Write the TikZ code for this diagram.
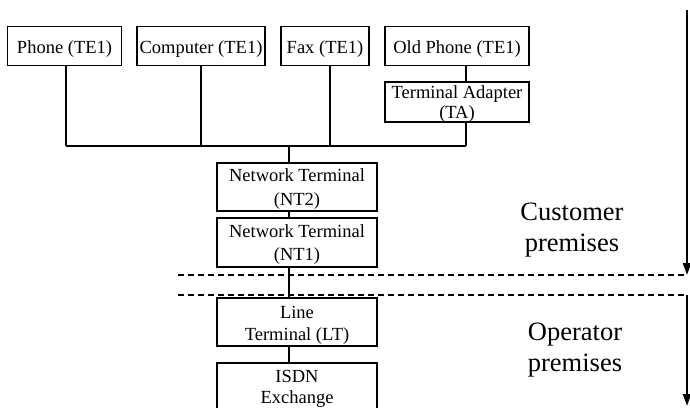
\documentclass[tikz,border=0pt]{standalone}
\usepackage{fontspec}
\setmainfont{Liberation Serif}
\usetikzlibrary{arrows.meta}
\newcommand{\boxtext}[3]{{\fontsize{18.5}{#2}\selectfont\raisebox{-#1}[\height][\depth]{\begin{tabular}{@{}c@{}}#3\end{tabular}}}}
\tikzset{
  box/.style={draw, line width=1.2pt, rectangle, inner sep=0pt,
    font=\fontsize{18.5}{24}\selectfont},
  onebox/.style={box, execute at begin node={\rule{0pt}{18.5pt}}},
  conn/.style={line width=2.6pt},
  sep/.style={line width=1.1pt, dash pattern=on 6pt off 4pt},
  side/.style={line width=2.2pt, -{Triangle[length=12pt,width=8pt]}},
  zone/.style={align=center, font=\fontsize{26.5}{31}\selectfont}
}
\begin{document}
\begin{tikzpicture}[x=1pt,y=-1pt]
\useasboundingbox (0,0) rectangle (690,407);
% top row
\node[onebox, minimum width=114pt, minimum height=39pt] (phone) at (64.5,46) {Phone (TE1)};
\node[onebox, minimum width=128pt, minimum height=39pt] (comp) at (201,46) {Computer (TE1)};
\node[onebox, minimum width=88pt, minimum height=39pt] (fax) at (325,46) {Fax (TE1)};
\node[onebox, minimum width=144pt, minimum height=39pt] (old) at (457,46) {Old Phone (TE1)};
\node[box, minimum width=144pt, minimum height=40pt] (ta) at (457,102) {\boxtext{2pt}{20}{Terminal Adapter\\(TA)}};
% column
\node[box, minimum width=160pt, minimum height=48pt] (nt2) at (297,187) {\boxtext{1.2pt}{24}{Network Terminal\\(NT2)}};
\node[box, minimum width=160pt, minimum height=49pt] (nt1) at (297,242.5) {\boxtext{1.4pt}{23}{Network Terminal\\(NT1)}};
\node[box, minimum width=160pt, minimum height=48pt] (lt) at (297,322) {\boxtext{2.6pt}{22}{Line\\Terminal (LT)}};
\node[box, minimum width=160pt, minimum height=49pt] (isdn) at (297,387.5) {\boxtext{0.8pt}{21}{ISDN\\Exchange}};
% bus
\coordinate (bL) at (66,146);
\coordinate (bR) at (466,146);
\coordinate (bM) at (289,146);
\draw[conn] (bL) -- (bR);
\draw[conn] ([xshift=1.5pt]phone.south) -- ([xshift=1.5pt]phone.south |- bL);
\draw[conn] (comp.south) -- (comp.south |- bL);
\draw[conn] ([xshift=5pt]fax.south) -- ([xshift=5pt]fax.south |- bL);
\draw[conn] ([xshift=9pt]old.south) -- ([xshift=9pt]ta.north);
\draw[conn] ([xshift=9pt]ta.south) -- (bR);
\draw[conn] (bM) -- (bM |- nt2.north);
\draw[conn] (bM |- nt2.south) -- (bM |- nt1.north);
\draw[conn] (bM |- nt1.south) -- (bM |- lt.north);
\draw[conn] (bM |- lt.south) -- (bM |- isdn.north);
% separators
\coordinate (d1L) at (178,275);
\coordinate (d1R) at (687,275);
\coordinate (d2L) at (178,295);
\coordinate (d2R) at (687,295);
\draw[sep] (d1L) -- (d1R);
\draw[sep] (d2L) -- (d2R);
% side arrows
\coordinate (a1s) at (687,10);
\coordinate (a2e) at (687,406);
\draw[side] (a1s) -- (d1R);
\draw[side] (d2R) -- (a2e);
% zone labels
\node[zone] (cust) at (572,230) {Customer\\premises};
\node[zone] (oper) at (575,350) {Operator\\premises};
\end{tikzpicture}
\end{document}
